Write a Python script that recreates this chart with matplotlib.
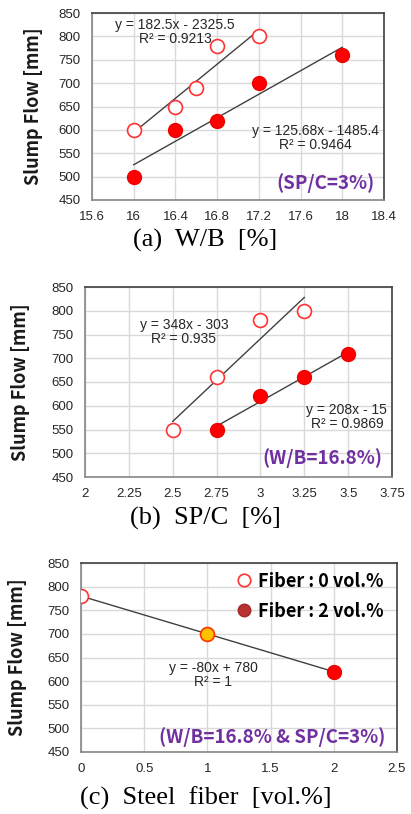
import numpy as np
import matplotlib
matplotlib.use('Agg')
import matplotlib.pyplot as plt
from matplotlib.lines import Line2D

# (a) W/B
wb_open_x = [16, 16.4, 16.6, 16.8, 17.2]
wb_open_y = [600, 650, 690, 780, 800]
wb_fill_x = [16, 16.4, 16.8, 17.2, 18]
wb_fill_y = [500, 600, 620, 700, 760]

# (b) SP/C
sp_open_x = [2.5, 2.75, 3, 3.25]
sp_open_y = [550, 660, 780, 800]
sp_fill_x = [2.75, 3, 3.25, 3.5]
sp_fill_y = [550, 620, 660, 710]

# (c) steel fiber
sf_x = [0, 1, 2]
sf_y = [780, 700, 620]

plt.rcParams['font.family'] = ['Liberation Sans', 'DejaVu Sans']
BOLD_FONT = ['Noto Sans CJK KR', 'DejaVu Sans']

fig = plt.figure(figsize=(4.11, 8.14), dpi=100)
W, H = 411, 814


def px_axes(l, t, r, b):
    return fig.add_axes([l / W, 1 - b / H, (r - l) / W, (b - t) / H])


def style(ax, xlim, xticks, xlabels, lab_x):
    ax.set_xlim(*xlim)
    ax.set_ylim(450, 850)
    ax.set_xticks(xticks)
    ax.set_xticklabels(xlabels)
    ax.set_yticks(range(450, 851, 50))
    ax.grid(True, color='#d9d9d9', lw=1)
    ax.set_axisbelow(True)
    ax.tick_params(length=0, labelsize=9.5, labelcolor='#262626', pad=8)
    for s in ['top', 'right']:
        ax.spines[s].set_color('#404040')
    for s in ['left', 'bottom']:
        ax.spines[s].set_color('#868686')
    for s in ax.spines.values():
        s.set_linewidth(1.2)
    ax.set_ylabel('Slump Flow [mm]', fontsize=13, fontweight='bold',
                  family=BOLD_FONT, color='#1a1a1a')
    ax.yaxis.set_label_coords(lab_x, 0.5)


def trend(ax, x, y):
    k, b = np.polyfit(x, y, 1)
    xs = np.array([min(x), max(x)])
    ax.plot(xs, k * xs + b, color='#404040', lw=1, zorder=2)


def open_pts(ax, x, y):
    ax.plot(x, y, 'o', ms=10, mfc='white', mec='#ff3333', mew=1.2, ls='none', zorder=3)


def fill_pts(ax, x, y):
    ax.plot(x, y, 'o', ms=10, mfc='#ff0000', mec='#ee0000', mew=1, ls='none', zorder=3)


eq_kw = dict(fontsize=10, ha='center', va='center', color='#262626', linespacing=1.0)
note_kw = dict(fontsize=13.5, fontweight='bold', color='#7030a0', ha='center', va='center',
               family=BOLD_FONT)
cap_kw = dict(fontsize=19, ha='center', va='center', family=['Liberation Serif', 'DejaVu Serif'])

# (a)
ax1 = px_axes(92, 13, 384, 200)
style(ax1, (15.6, 18.4), np.arange(15.6, 18.41, 0.4),
      ['15.6', '16', '16.4', '16.8', '17.2', '17.6', '18', '18.4'], -0.167)
trend(ax1, wb_open_x, wb_open_y)
trend(ax1, wb_fill_x, wb_fill_y)
open_pts(ax1, wb_open_x, wb_open_y)
fill_pts(ax1, wb_fill_x, wb_fill_y)
ax1.text(0.284, 0.898, 'y = 182.5x - 2325.5\nR\u00b2 = 0.9213', transform=ax1.transAxes, **eq_kw)
ax1.text(0.764, 0.332, 'y = 125.68x - 1485.4\nR\u00b2 = 0.9464', transform=ax1.transAxes, **eq_kw)
ax1.text(0.798, 0.091, '(SP/C=3%)', transform=ax1.transAxes, **note_kw)
fig.text(0.5, 1 - 240 / H, '(a)  W/B  [%]', **cap_kw)

# (b)
ax2 = px_axes(85, 287, 392, 477)
style(ax2, (2, 3.75), np.arange(2, 3.76, 0.25),
      ['2', '2.25', '2.5', '2.75', '3', '3.25', '3.5', '3.75'], -0.178)
trend(ax2, sp_open_x, sp_open_y)
trend(ax2, sp_fill_x, sp_fill_y)
open_pts(ax2, sp_open_x, sp_open_y)
fill_pts(ax2, sp_fill_x, sp_fill_y)
ax2.text(0.322, 0.763, 'y = 348x - 303\nR\u00b2 = 0.935', transform=ax2.transAxes, **eq_kw)
ax2.text(0.853, 0.316, 'y = 208x - 15\nR\u00b2 = 0.9869', transform=ax2.transAxes, **eq_kw)
ax2.text(0.772, 0.10, '(W/B=16.8%)', transform=ax2.transAxes, **note_kw)
fig.text(0.5, 1 - 518 / H, '(b)  SP/C  [%]', **cap_kw)

# (c)
ax3 = px_axes(81, 563, 397, 752)
style(ax3, (0, 2.5), np.arange(0, 2.51, 0.5), ['0', '0.5', '1', '1.5', '2', '2.5'], -0.172)
trend(ax3, sf_x, sf_y)
open_pts(ax3, sf_x[:1], sf_y[:1])
ax3.plot(sf_x[1:2], sf_y[1:2], 'o', ms=10, mfc='#ffc000', mec='#ff3300', mew=1.2, zorder=3)
fill_pts(ax3, sf_x[2:], sf_y[2:])
ax3.text(0.418, 0.407, 'y = -80x + 780\nR\u00b2 = 1', transform=ax3.transAxes, **eq_kw)
ax3.text(0.604, 0.079, '(W/B=16.8% & SP/C=3%)', transform=ax3.transAxes, **note_kw)
handles = [
    Line2D([], [], marker='o', ls='none', ms=9, mfc='white', mec='#ff3333', mew=1.2),
    Line2D([], [], marker='o', ls='none', ms=9, mfc='#b83232', mec='#a02828', mew=1),
]
ax3.legend(handles, ['Fiber : 0 vol.%', 'Fiber : 2 vol.%'], loc='upper right',
           bbox_to_anchor=(1.01, 1.04), frameon=False, handletextpad=0.2,
           handlelength=1.2, labelspacing=0.6,
           prop={'family': BOLD_FONT, 'weight': 'bold', 'size': 13})
fig.text(0.5, 1 - 798 / H, '(c)  Steel  fiber  [vol.%]', **cap_kw)

fig.savefig('out.png', dpi=100)
